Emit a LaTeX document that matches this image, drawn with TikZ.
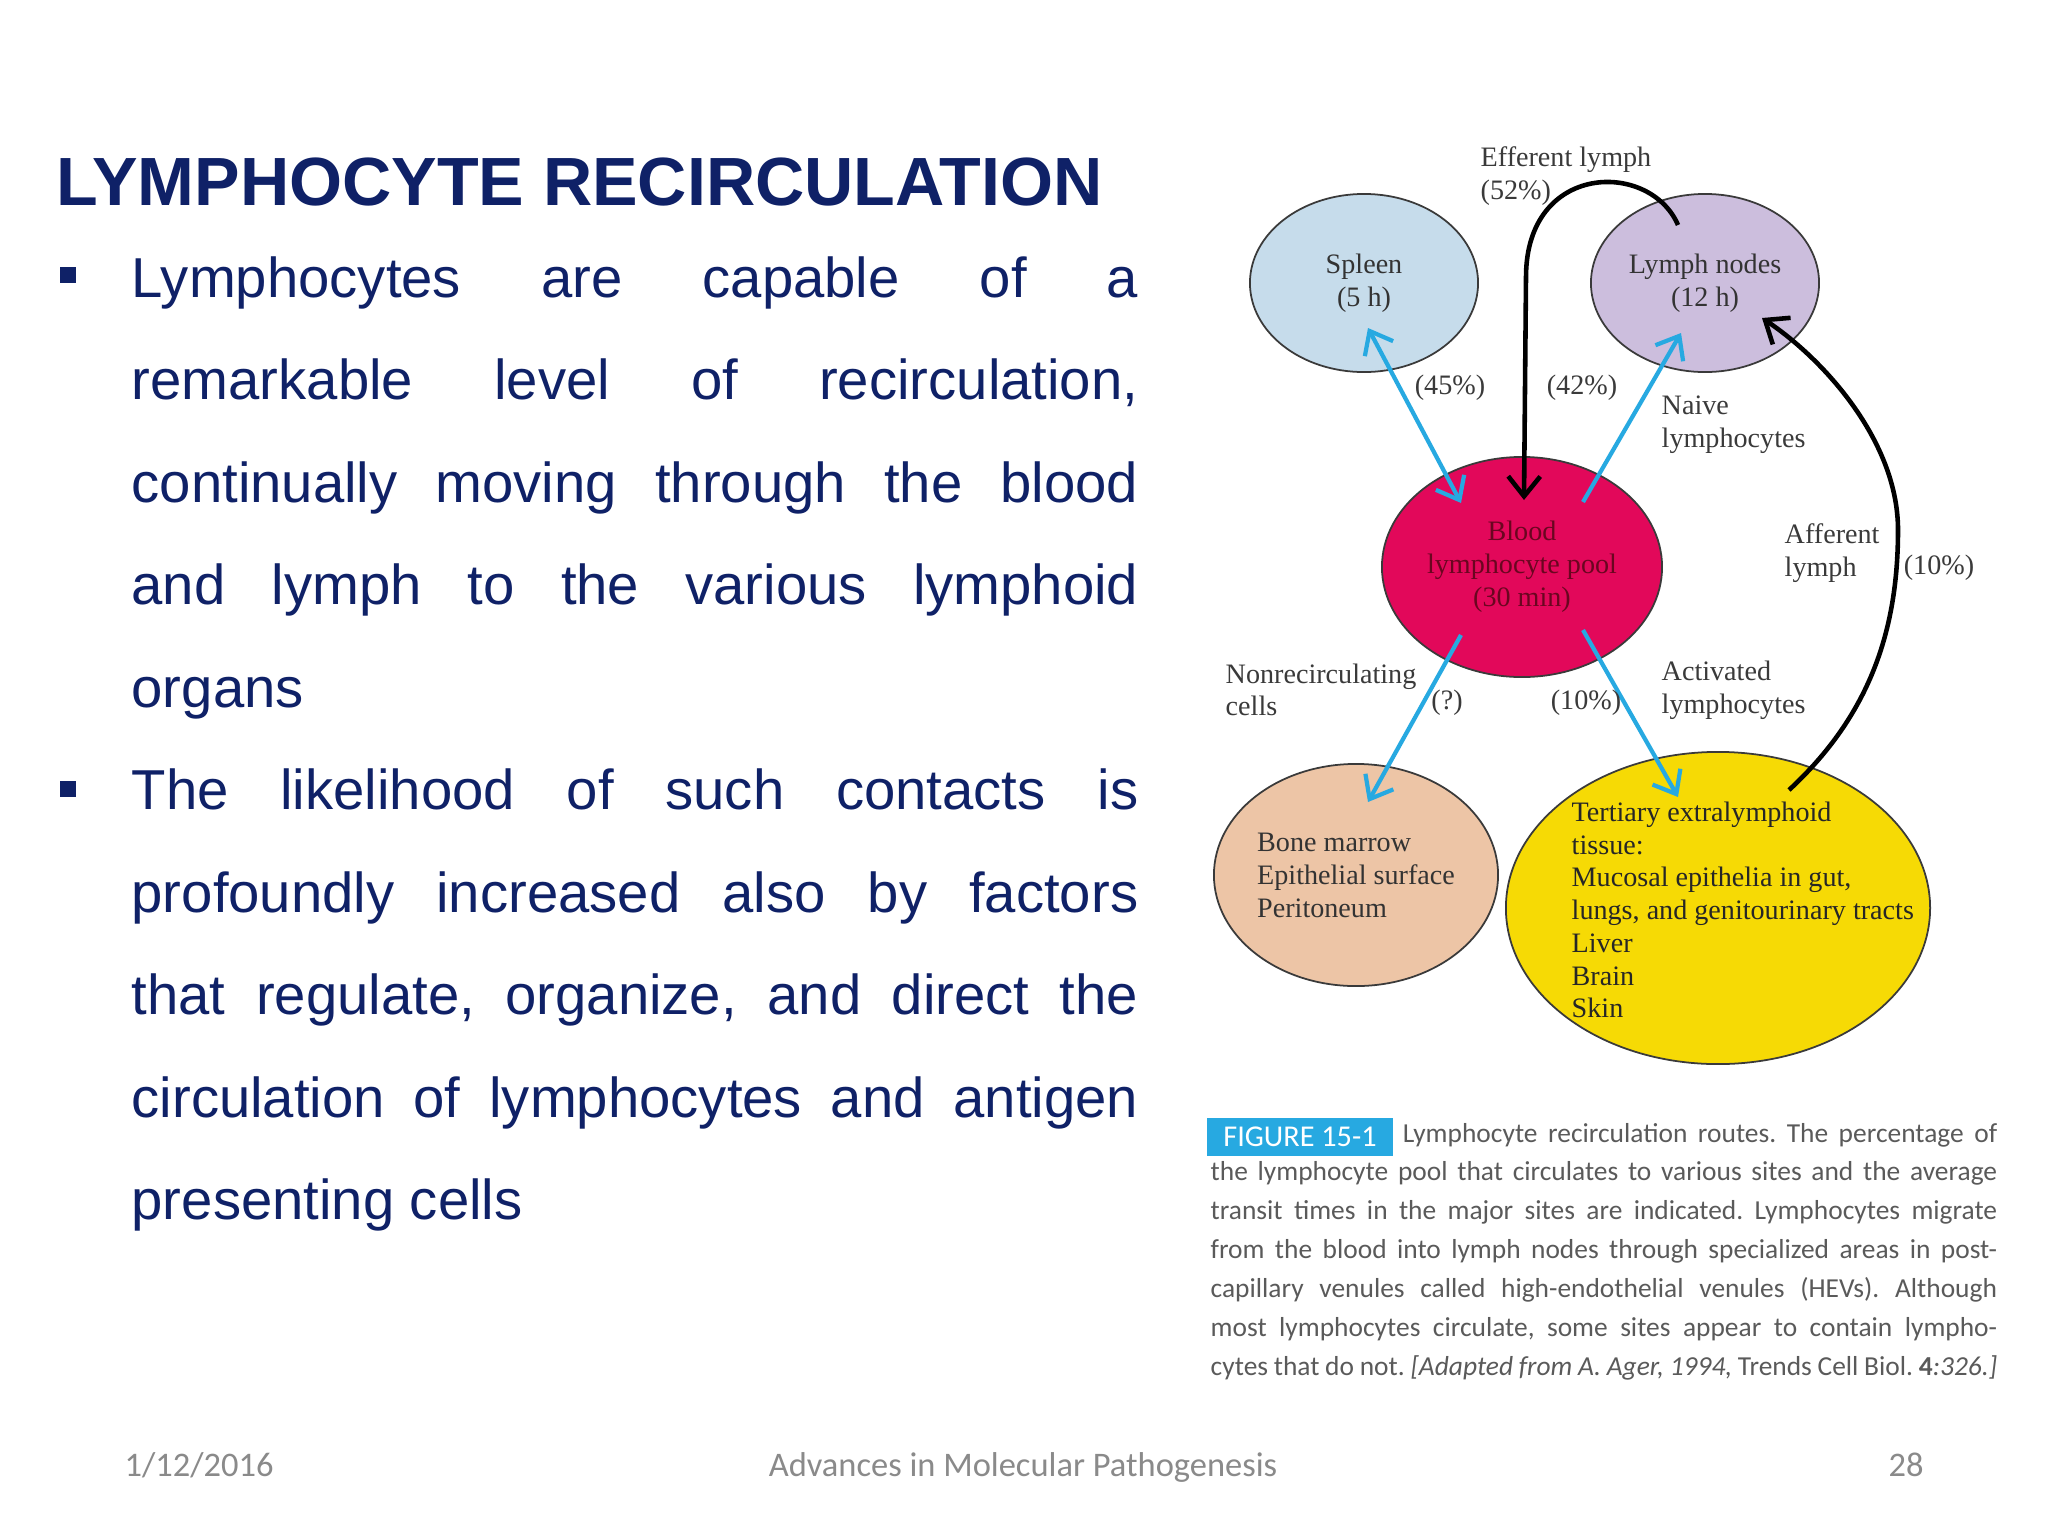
\documentclass[tikz,border=0pt]{standalone}
\usepackage{fontspec}
\setmainfont{Liberation Sans}
\newfontfamily\serifdiag{Liberation Serif}
\newfontfamily\calibri{Carlito}
\usepackage{xcolor}
\usetikzlibrary{arrows.meta,shapes.geometric,calc}
\definecolor{marino}{HTML}{0F2167}
\definecolor{celeste}{HTML}{27A9E1}
\definecolor{azulpalido}{HTML}{C6DCEB}
\definecolor{lila}{HTML}{CCBEDD}
\definecolor{carmesi}{HTML}{E2085A}
\definecolor{vino}{HTML}{6A0620}
\definecolor{durazno}{HTML}{EDC5A6}
\definecolor{amarillo}{HTML}{F6DA05}
\definecolor{gris}{HTML}{3A3A3A}
\definecolor{grispie}{HTML}{8A8A8A}
\definecolor{grisleyenda}{HTML}{5A5A5A}
\tolerance=10000
\hyphenpenalty=10000
\hbadness=10000
\frenchspacing

\begin{document}
\begin{tikzpicture}[x=0.01cm, y=-0.01cm,
  punta/.tip={Straight Barb[length=2mm,width=3.2mm]},
  organo/.style={ellipse, draw=gris, line width=0.5pt, inner sep=0pt, align=center,
    font=\serifdiag\fontsize{8}{9.4}\selectfont, text=black!80},
  etiq/.style={font=\serifdiag\fontsize{8}{9.3}\selectfont, text=gris, align=left, inner sep=0pt},
  flujo/.style={draw=celeste, line width=1.2pt, -punta},
  linfa/.style={draw=black, line width=1.3pt, -punta},
  parrafo/.style={text width=10.06cm, align=justify, inner sep=0pt, text=marino,
    font=\fontsize{16}{29.16}\selectfont},
  vineta/.style={fill=marino, minimum size=0.16cm, inner sep=0pt},
  pie/.style={font=\calibri\fontsize{9.8}{12}\selectfont, text=grispie, inner sep=0pt}]
  % fondo
  \fill[white] (0,0) rectangle (2048,1536);
  \useasboundingbox (0,0) rectangle (2048,1536);
  % titulo y texto
  \node[anchor=base west, inner sep=0pt, text=marino, font=\bfseries\fontsize{19.4}{23}\selectfont] (titulo) at (56,205) {LYMPHOCYTE RECIRCULATION};
  \node[vineta] (v1) at (68,275) {};
  \node[vineta] (v2) at (68,789) {};
  \node[parrafo, anchor=base west] (p1) at (131,297) {Lymphocytes are capable of a\linebreak remarkable level of recirculation,\linebreak continually moving through the blood\linebreak and lymph to the various lymphoid\linebreak organs};
  \node[parrafo, anchor=base west] (p2) at (131,809.5) {The likelihood of such contacts is\linebreak profoundly increased also by factors\linebreak that regulate, organize, and direct the\linebreak circulation of lymphocytes and antigen\linebreak presenting cells};
  % organos
  \node[organo, fill=azulpalido, minimum width=2.28cm, minimum height=1.78cm] (bazo) at (1364,283) {Spleen\\(5 h)};
  \node[organo, fill=lila, minimum width=2.28cm, minimum height=1.78cm] (ganglios) at (1705,283) {Lymph nodes\\(12 h)};
  \node[organo, fill=carmesi, text=vino, minimum width=2.80cm, minimum height=2.20cm] (sangre) at (1522,567) {Blood\\lymphocyte pool\\(30 min)};
  \node[organo, fill=durazno, align=left, minimum width=2.84cm, minimum height=2.22cm] (medula) at (1356,875) {Bone marrow\\Epithelial surface\\Peritoneum};
  \node[organo, fill=amarillo, minimum width=4.24cm, minimum height=3.12cm] (terciario) at (1718,908) {};
  \node[etiq, anchor=west, text=black!85] (tejidos) at (1571,910) {Tertiary extralymphoid\\tissue:\\Mucosal epithelia in gut,\\lungs, and genitourinary tracts\\Liver\\Brain\\Skin};
  % flujos desde la sangre
  \draw[flujo, punta-punta] ($(bazo)+(4,45)$) -- ($(sangre)+(-61,-64)$);
  \draw[flujo] ($(sangre)+(61,-65)$) -- ($(ganglios)+(-24,50)$);
  \draw[flujo] ($(sangre)+(-61,68)$) -- ($(medula)+(12,-73)$);
  \draw[flujo] ($(sangre)+(61,63)$) -- ($(terciario)+(-40,-111)$);
  % linfa eferente y aferente
  \draw[linfa] ($(ganglios)+(-27,-58)$) .. controls +(-28,-65) and +(0,-115) .. ($(sangre)+(4,-290)$) -- ($(sangre)+(2,-67)$);
  \draw[linfa] ($(terciario)+(71,-118)$) .. controls +(81,-75) and +(0,100) .. ($(terciario)+(180,-378)$) .. controls +(0,-90) and +(60,40) .. ($(ganglios)+(57,35)$);
  % etiquetas
  \node[etiq, anchor=west] (eferente) at (1480,176) {Efferent lymph\\(52\%)};
  \node[etiq] (p45) at (1450,388) {(45\%)};
  \node[etiq] (p42) at (1582,388) {(42\%)};
  \node[etiq, anchor=west] (naive) at (1661,425) {Naive\\lymphocytes};
  \node[etiq, anchor=west] (aferente) at (1784,553) {Afferent\\lymph};
  \node[etiq] (p10a) at (1939,568) {(10\%)};
  \node[etiq, anchor=west] (norecirc) at (1225,690) {Nonrecirculating\\cells};
  \node[etiq] (pq) at (1447,703) {(?)};
  \node[etiq] (p10b) at (1586,703) {(10\%)};
  \node[etiq, anchor=west] (activados) at (1661,690) {Activated\\lymphocytes};
  % leyenda
  \node[fill=celeste, text=white, font=\calibri\fontsize{8.6}{10}\selectfont, minimum width=1.86cm, minimum height=0.38cm, inner sep=0pt] (figura) at (1300,1136.5) {FIGURE 15-1};
  \node[anchor=base west, text width=7.86cm, align=justify, inner sep=0pt, text=grisleyenda, font=\calibri\fontsize{7.8}{11.06}\selectfont] (leyenda) at (1210,1142) {\hspace*{1.92cm}Lymphocyte recirculation routes. The percentage of\linebreak the lymphocyte pool that circulates to various sites and the average\linebreak transit times in the major sites are indicated. Lymphocytes migrate\linebreak from the blood into lymph nodes through specialized areas in post-\linebreak capillary venules called high-endothelial venules (HEVs). Although\linebreak most lymphocytes circulate, some sites appear to contain lympho-\linebreak cytes that do not. \textit{[Adapted from A. Ager, 1994,} Trends Cell Biol. \textbf{4}\textit{:326.]}\parfillskip=0pt};
  % pie de pagina
  \node[pie, anchor=base west] (fecha) at (124,1476) {1/12/2016};
  \node[pie, anchor=base] (curso) at (1023,1476) {Advances in Molecular Pathogenesis};
  \node[pie, anchor=base] (pagina) at (1906,1476) {28};
\end{tikzpicture}
\end{document}
